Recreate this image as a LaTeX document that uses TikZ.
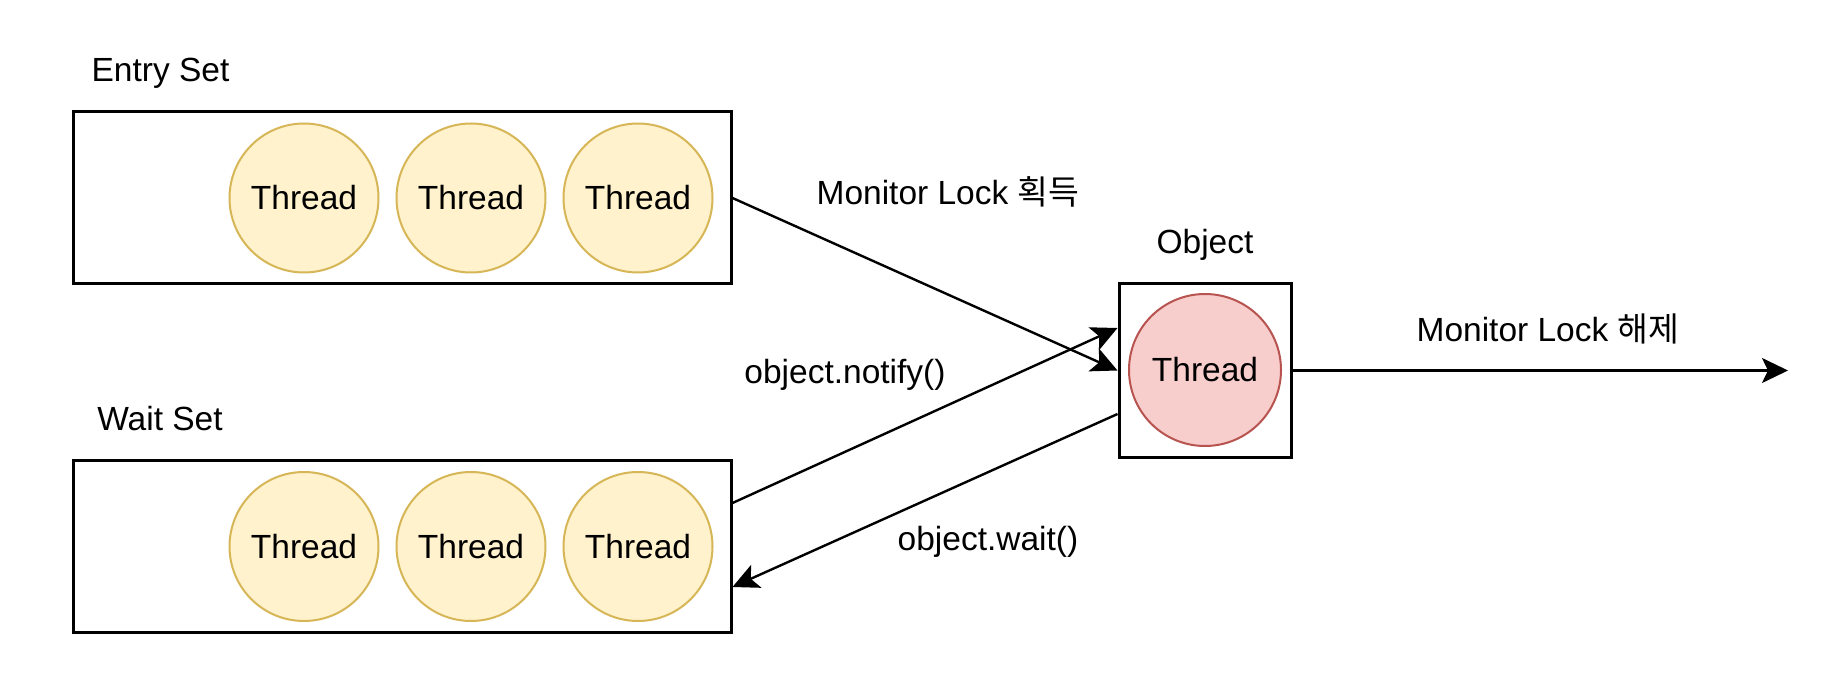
\documentclass[tikz,border=0pt]{standalone}
\usepackage{fontspec}
\setmainfont{Liberation Sans}
\newfontfamily\kr{Noto Sans CJK KR}
\usetikzlibrary{arrows.meta,calc}
\definecolor{yfill}{HTML}{FFF2CC}
\definecolor{ydraw}{HTML}{D6B656}
\definecolor{rfill}{HTML}{F8CECC}
\definecolor{rdraw}{HTML}{B85450}
\tikzset{
  setbox/.style={draw=black,line width=1.5pt,fill=white,minimum width=329pt,minimum height=86pt,inner sep=0pt},
  objbox/.style={draw=black,line width=1.5pt,fill=white,minimum width=86pt,minimum height=86.5pt,inner sep=0pt},
  ythread/.style={circle,draw=ydraw,fill=yfill,line width=1pt,minimum size=74.5pt,inner sep=0pt},
  rthread/.style={circle,draw=rdraw,fill=rfill,line width=1pt,minimum size=76pt,inner sep=0pt},
  lbl/.style={inner sep=0pt,anchor=base},
  conn/.style={line width=1.2pt,-{Stealth[length=13pt,width=12.5pt,inset=3pt]}},
}
\begin{document}
\begin{tikzpicture}[x=0.5pt,y=-0.5pt,font=\fontsize{16.75}{20}\selectfont]
\useasboundingbox (0,0) rectangle (1848,700);
% boxes
\node[setbox] (entry) at (402,198) {};
\node[setbox] (wait) at (402,546.5) {};
\node[objbox] (obj) at (1205,370.5) {};
% threads
\node[ythread] (e1) at (304,198) {Thread};
\node[ythread] (e2) at (471,198) {Thread};
\node[ythread] (e3) at (638,198) {Thread};
\node[ythread] (w1) at (304,546.5) {Thread};
\node[ythread] (w2) at (471,546.5) {Thread};
\node[ythread] (w3) at (638,546.5) {Thread};
\node[rthread] (r1) at (1205,370) {Thread};
% labels
\node[lbl] (entrylbl) at (160.5,81.7) {Entry Set};
\node[lbl] (waitlbl) at (160,430.7) {Wait Set};
\node[lbl] (objlbl) at (1205,253.3) {Object};
\node[lbl] (acq) at (948,205) {Monitor Lock {\kr 획득}};
\node[lbl] (notl) at (845,383.3) {object.notify()};
\node[lbl] (waitl) at (988,550) {object.wait()};
\node[lbl] (rel) at (1548,341.7) {Monitor Lock {\kr 해제}};
% connector points
\coordinate (wn) at ($(wait.east)+(0,-43.5)$);
\coordinate (ww) at ($(wait.east)+(0,40.5)$);
\coordinate (on) at ($(obj.west)+(0,-42.5)$);
\coordinate (ow) at ($(obj.west)+(0,43.5)$);
\coordinate (relend) at (1788,370.5);
% connectors
\draw[conn] (entry.east) -- (obj.west);
\draw[conn] (wn) -- (on);
\draw[conn] (ow) -- (ww);
\draw[conn] (obj.east) -- (relend);
\end{tikzpicture}
\end{document}
